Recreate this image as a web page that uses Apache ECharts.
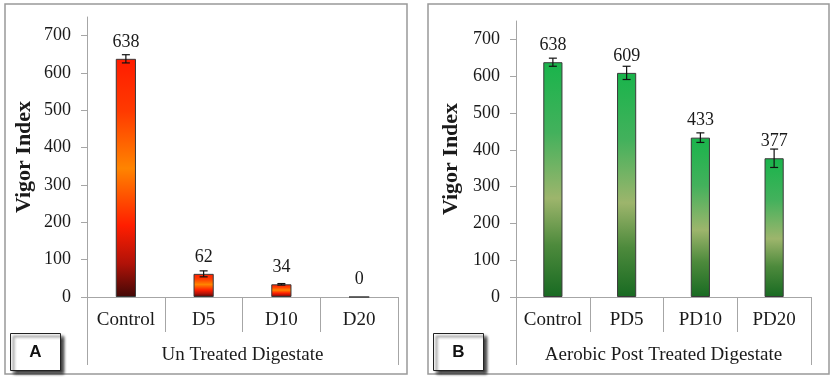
<!DOCTYPE html>
<html>
<head>
<meta charset="utf-8">
<script src="https://cdn.jsdelivr.net/npm/echarts@6/dist/echarts.min.js"></script>
<style>
  html, body { margin: 0; padding: 0; background: #fff; }
  #chart { width: 835px; height: 378px; }
</style>
</head>
<body>
<div id="chart"></div>
<script>
// data
const catsA = ['Control', 'D5', 'D10', 'D20'];
const valsA = [638, 62, 34, 0];
const errA = [11, 8, 2, 0];
const groupA = 'Un Treated Digestate';

const catsB = ['Control', 'PD5', 'PD10', 'PD20'];
const valsB = [638, 609, 433, 377];
const errB = [11, 18, 13, 25];
const groupB = 'Aerobic Post Treated Digestate';

const yTicks = [0, 100, 200, 300, 400, 500, 600, 700];

const serif = "'Liberation Serif', 'Times New Roman', serif";
const axisGray = '#a6a6a6';
const textColor = '#1a1a1a';

let chart = echarts.init(document.getElementById('chart'));

const redFill = new echarts.graphic.LinearGradient(0, 0, 0, 1, [
  {offset: 0, color: '#ff1c00'},
  {offset: 0.22, color: '#ff3a00'},
  {offset: 0.46, color: '#ff8400'},
  {offset: 0.7, color: '#ff1e00'},
  {offset: 0.86, color: '#b01208'},
  {offset: 1, color: '#420806'}
]);
const greenFill = new echarts.graphic.LinearGradient(0, 0, 0, 1, [
  {offset: 0, color: '#19b44b'},
  {offset: 0.3, color: '#43b15c'},
  {offset: 0.58, color: '#9db56c'},
  {offset: 0.78, color: '#4d8a3c'},
  {offset: 1, color: '#186a22'}
]);

function catAxis(idx, cats) {
  return {
    type: 'category', gridIndex: idx, data: cats, position: 'bottom',
    axisLine: {lineStyle: {color: axisGray, width: 1}},
    axisTick: {show: true, interval: 0, length: 35, lineStyle: {color: axisGray}},
    axisLabel: {interval: 0, hideOverlap: false, fontFamily: serif, fontSize: 19, color: textColor, margin: 14}
  };
}
function groupAxis(idx, name) {
  return {
    type: 'category', gridIndex: idx, data: [name], position: 'bottom',
    axisLine: {show: false},
    axisTick: {show: true, interval: 0, length: 68, lineStyle: {color: axisGray}},
    axisLabel: {interval: 0, fontFamily: serif, fontSize: 19, color: textColor, margin: 49}
  };
}
function valAxis(idx, gap) {
  return {
    type: 'value', gridIndex: idx, min: 0, max: 750, interval: 50,
    name: 'Vigor Index', nameLocation: 'middle', nameGap: gap,
    nameTextStyle: {fontFamily: serif, fontSize: 22, fontWeight: 'bold', color: textColor},
    splitLine: {show: false},
    axisLine: {show: true, lineStyle: {color: axisGray}},
    axisTick: {show: true, length: 6, customValues: yTicks, lineStyle: {color: axisGray}},
    axisLabel: {fontFamily: serif, fontSize: 18, color: textColor, margin: 16, customValues: yTicks}
  };
}
function barSeries(idx, vals, fill) {
  return {
    type: 'bar', xAxisIndex: idx * 2, yAxisIndex: idx, data: vals, barWidth: '26%',
    itemStyle: {color: fill, borderColor: '#3a3a3a', borderWidth: 1},
    label: {show: true, position: 'top', distance: 8, fontFamily: serif, fontSize: 18, color: textColor}
  };
}
function errSeries(idx, vals, errs) {
  return {
    type: 'custom', xAxisIndex: idx * 2, yAxisIndex: idx, z: 5,
    data: vals.map((v, i) => [i, v, errs[i]]),
    encode: {x: 0, y: 1},
    renderItem: function (params, api) {
      const i = api.value(0), v = api.value(1), e = api.value(2);
      if (!e) return null;
      const hi = api.coord([i, v + e]);
      const lo = api.coord([i, v - e]);
      const w = 4;
      const st = {stroke: '#111', lineWidth: 1.2};
      return {
        type: 'group',
        children: [
          {type: 'line', shape: {x1: hi[0], y1: hi[1], x2: lo[0], y2: lo[1]}, style: st},
          {type: 'line', shape: {x1: hi[0] - w, y1: hi[1], x2: hi[0] + w, y2: hi[1]}, style: st},
          {type: 'line', shape: {x1: lo[0] - w, y1: lo[1], x2: lo[0] + w, y2: lo[1]}, style: st}
        ]
      };
    }
  };
}
function panelBox(x, w) {
  return {type: 'rect', shape: {x: x, y: 4, width: w, height: 370},
    style: {fill: 'none', stroke: '#999', lineWidth: 1.5}, z: 0};
}
function letterBox(x, letter) {
  return {type: 'group', left: x, top: 333, children: [
    {type: 'rect', shape: {x: 0, y: 0, width: 50, height: 37},
      style: {fill: '#fff', stroke: '#222', lineWidth: 1,
        shadowBlur: 3, shadowOffsetX: 3, shadowOffsetY: 3, shadowColor: 'rgba(0,0,0,0.8)'}},
    {type: 'text', x: 25, y: 19, style: {text: letter, font: 'bold 17px Arial, Liberation Sans, sans-serif',
      fill: '#111', align: 'center', verticalAlign: 'middle'}}
  ]};
}

chart.setOption({
  animation: false,
  grid: [
    {left: 87, right: 437, top: 17, bottom: 81},
    {left: 516, right: 24, top: 21, bottom: 81}
  ],
  xAxis: [catAxis(0, catsA), groupAxis(0, groupA), catAxis(1, catsB), groupAxis(1, groupB)],
  yAxis: [valAxis(0, 52), valAxis(1, 54)],
  series: [
    barSeries(0, valsA, redFill), errSeries(0, valsA, errA),
    barSeries(1, valsB, greenFill), errSeries(1, valsB, errB)
  ],
  graphic: [panelBox(5, 402), panelBox(428, 401), letterBox(10, 'A'), letterBox(433, 'B')]
});
</script>
</body>
</html>
